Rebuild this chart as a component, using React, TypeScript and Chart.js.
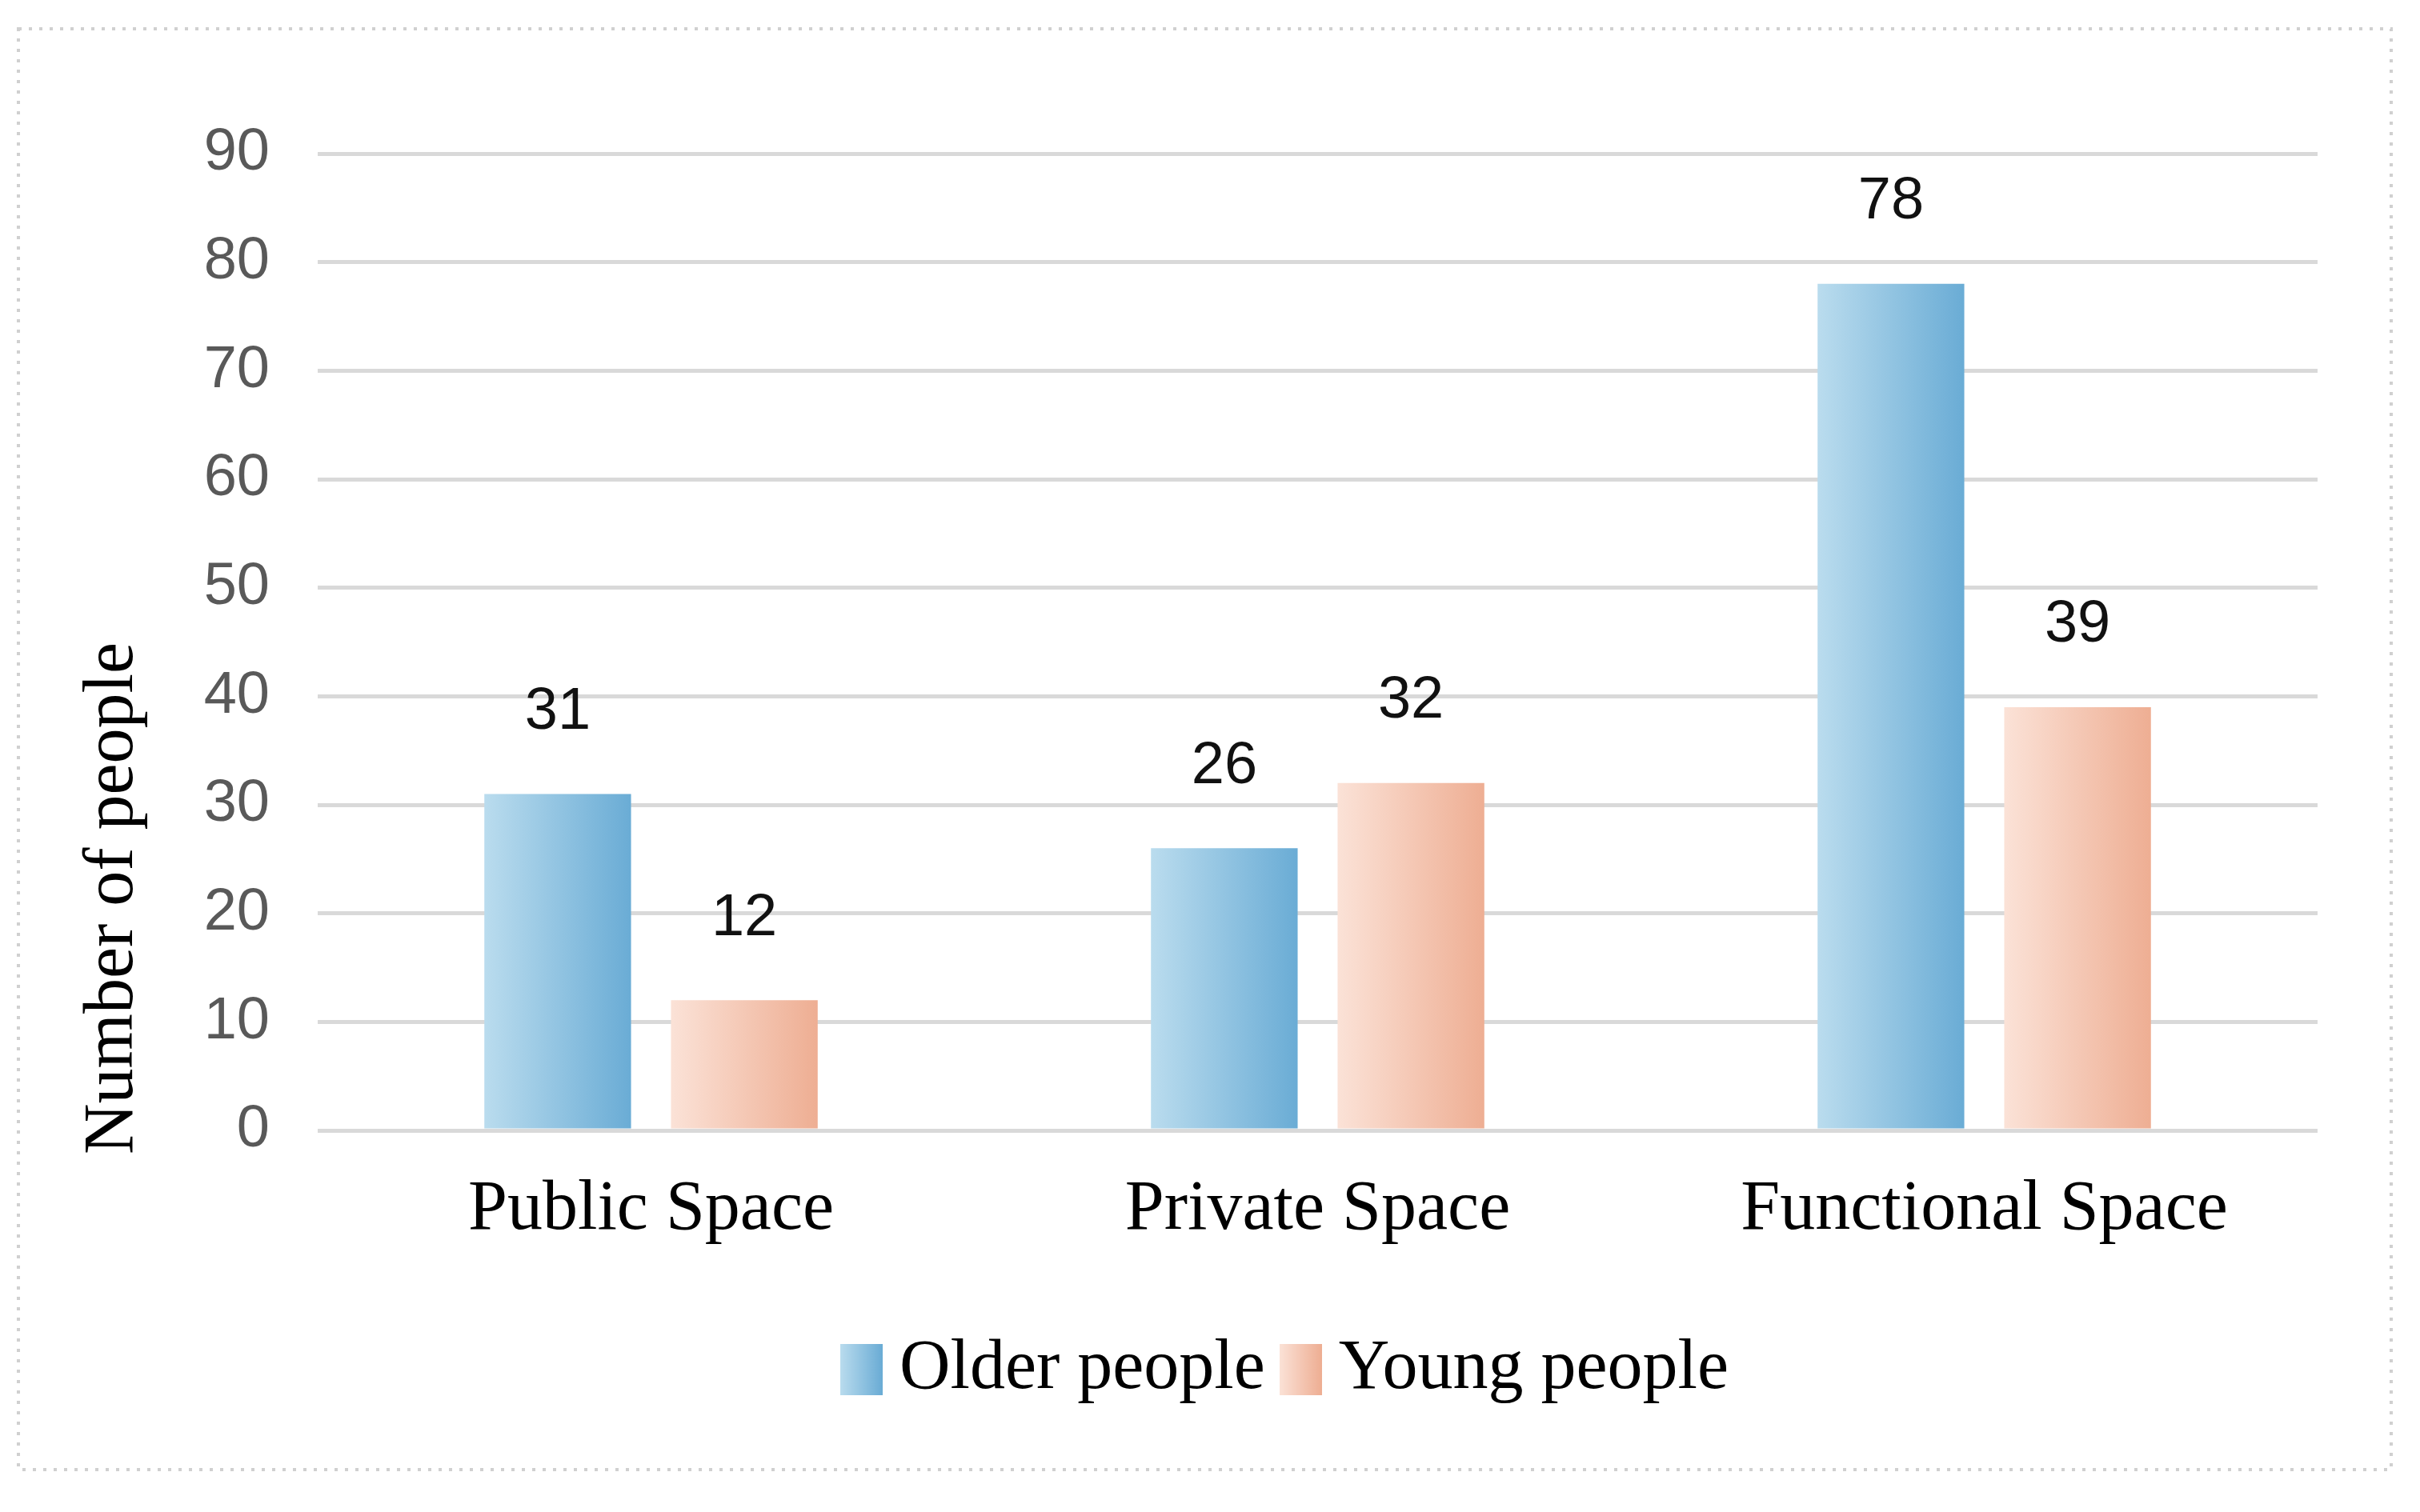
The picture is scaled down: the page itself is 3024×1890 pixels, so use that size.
import React, { useEffect, useRef } from "react";
import { Chart, registerables } from "chart.js";

Chart.register(...registerables);

// ---- data ----
const categories = ["Public Space", "Private Space", "Functional Space"];
const seriesNames = ["Older people", "Young people"];
const olderPeople = [31, 26, 78];
const youngPeople = [12, 32, 39];
const yMin = 0;
const yMax = 90;
const yStep = 10;
const yTitle = "Number of people";

// ---- styles ----
const BLUE = ["#badcee", "#6aacd5"];
const PEACH = ["#fbe2d7", "#eeae93"];
const SERIF = "'Liberation Serif', 'Times New Roman', serif";
const SANS = "'Liberation Sans', Arial, sans-serif";

function makeSwatch(cols: string[]) {
  const c = document.createElement("canvas");
  c.width = 53;
  c.height = 64;
  const g = c.getContext("2d")!;
  const gr = g.createLinearGradient(0, 0, 53, 0);
  gr.addColorStop(0, cols[0]);
  gr.addColorStop(1, cols[1]);
  g.fillStyle = gr;
  g.fillRect(0, 0, 53, 64);
  return c;
}

export default function App() {
  const ref = useRef<HTMLCanvasElement | null>(null);

  useEffect(() => {
    if (!ref.current) return;
    const swatches = [makeSwatch(BLUE), makeSwatch(PEACH)];
    const palettes = [BLUE, PEACH];

    const framePlugin = {
      id: "frame",
      beforeDraw(chart: any) {
        const ctx = chart.ctx;
        ctx.save();
        ctx.fillStyle = "#ffffff";
        ctx.fillRect(0, 0, chart.width, chart.height);
        ctx.strokeStyle = "#d0d0d0";
        ctx.lineWidth = 4;
        ctx.setLineDash([4, 9]);
        ctx.strokeRect(23, 36, 2965, 1801);
        ctx.restore();
      },
    };

    const legendShiftPlugin = {
      id: "legendShift",
      afterLayout(chart: any) {
        const lg = chart.legend;
        if (lg) {
          lg.left -= 30;
          lg.right -= 30;
        }
      },
    };

    const gradientPlugin = {
      id: "barGradient",
      beforeDatasetsDraw(chart: any) {
        const ctx = chart.ctx;
        chart.data.datasets.forEach((_ds: any, di: number) => {
          const meta = chart.getDatasetMeta(di);
          const cols = palettes[di];
          meta.data.forEach((el: any) => {
            const { x, width } = el.getProps(["x", "width"], true);
            const g = ctx.createLinearGradient(x - width / 2, 0, x + width / 2, 0);
            g.addColorStop(0, cols[0]);
            g.addColorStop(1, cols[1]);
            el.options = { ...el.options, backgroundColor: g };
          });
        });
      },
    };

    const labelPlugin = {
      id: "valueLabels",
      afterDatasetsDraw(chart: any) {
        const ctx = chart.ctx;
        ctx.save();
        ctx.font = `74px ${SANS}`;
        ctx.fillStyle = "#111111";
        ctx.textAlign = "center";
        ctx.textBaseline = "middle";
        chart.data.datasets.forEach((ds: any, di: number) => {
          const meta = chart.getDatasetMeta(di);
          meta.data.forEach((el: any, i: number) => {
            const { x, y } = el.getProps(["x", "y"], true);
            ctx.fillText(String(ds.data[i]), x, y - 102);
          });
        });
        ctx.restore();
      },
    };

    const yTitlePlugin = {
      id: "yTitle",
      afterDraw(chart: any) {
        const ctx = chart.ctx;
        ctx.save();
        ctx.translate(142, 1123);
        ctx.rotate(-Math.PI / 2);
        ctx.font = `88px ${SERIF}`;
        ctx.fillStyle = "#000000";
        ctx.textAlign = "center";
        ctx.textBaseline = "middle";
        ctx.fillText(yTitle, 0, 0);
        ctx.restore();
      },
    };

    const chart = new Chart(ref.current, {
      type: "bar",
      data: {
        labels: categories,
        datasets: [
          { label: seriesNames[0], data: olderPeople, backgroundColor: BLUE[1], borderWidth: 0 },
          { label: seriesNames[1], data: youngPeople, backgroundColor: PEACH[1], borderWidth: 0 },
        ],
      },
      options: {
        animation: false,
        responsive: false,
        devicePixelRatio: 1,
        layout: { padding: { left: 0, right: 128, top: 192, bottom: 124 } },
        datasets: {
          bar: { categoryPercentage: 0.56, barPercentage: 0.786 },
        },
        scales: {
          x: {
            grid: { display: false, drawTicks: false },
            border: { display: false },
            ticks: {
              font: { family: SERIF, size: 88 },
              color: "#000000",
              padding: 47,
            },
            afterFit: (scale: any) => {
              scale.height = 214;
            },
          },
          y: {
            min: yMin,
            max: yMax,
            grid: { color: "#d9d9d9", lineWidth: 5, drawTicks: false },
            border: { display: false },
            ticks: {
              stepSize: yStep,
              font: { family: SANS, size: 74 },
              color: "#595959",
              padding: 60,
            },
            afterFit: (scale: any) => {
              scale.width = 397;
            },
          },
        },
        plugins: {
          tooltip: { enabled: false },
          legend: {
            position: "bottom",
            fullSize: false,
            labels: {
              font: { family: SERIF, size: 88 },
              color: "#000000",
              usePointStyle: true,
              pointStyleWidth: 7,
              padding: 41,
              generateLabels: (c: any) => {
                const items = (Chart.defaults as any).plugins.legend.labels.generateLabels(c);
                items.forEach((it: any, i: number) => {
                  it.pointStyle = swatches[i];
                });
                return items;
              },
            },
          },
        },
      },
      plugins: [framePlugin, legendShiftPlugin, gradientPlugin, labelPlugin, yTitlePlugin],
    } as any);

    return () => chart.destroy();
  }, []);

  return (
    <div style={{ position: "absolute", left: 0, top: 0, width: 3024, height: 1890, background: "#fff" }}>
      <canvas ref={ref} width={3024} height={1890} style={{ width: 3024, height: 1890, display: "block" }} />
    </div>
  );
}
